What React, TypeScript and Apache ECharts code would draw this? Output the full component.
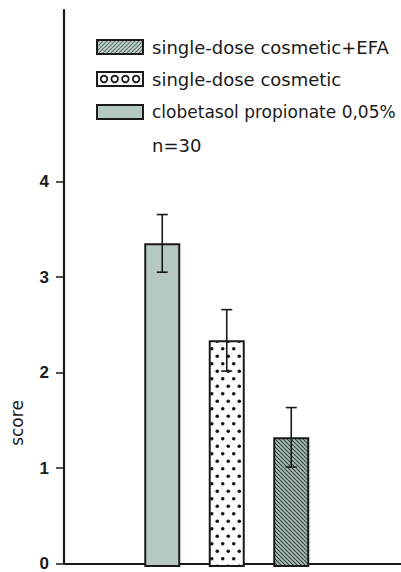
import React, { useEffect, useRef } from "react";
import * as echarts from "echarts";

const categories = ["clobetasol propionate 0,05 %", "single-dose cosmetic", "single-dose cosmetic+EFA"];
const scores = [3.37, 2.36, 1.35];
const errors = [0.3, 0.32, 0.31];
const yTickLabels = [0, 1, 2, 3, 4];
const legendLabels = ["single-dose cosmetic+EFA", "single-dose cosmetic", "clobetasol propionate 0,05%"];
const sampleNote = "n=30";
const yAxisName = "score";

const SAGE = "#b6c9c1";
const HATCH_BG = "#a9bcb4";
const HATCH_LINE = "#34443e";

function makeHatch(dir: "down" | "up", bg: string, line: string) {
  const c = document.createElement("canvas");
  const s = 4;
  c.width = s;
  c.height = s;
  const g = c.getContext("2d")!;
  g.fillStyle = bg;
  g.fillRect(0, 0, s, s);
  g.strokeStyle = line;
  g.lineWidth = 1.1;
  for (let k = -1; k <= 1; k++) {
    g.beginPath();
    if (dir === "down") {
      g.moveTo(k * s, 0);
      g.lineTo(k * s + s, s);
    } else {
      g.moveTo(k * s, s);
      g.lineTo(k * s + s, 0);
    }
    g.stroke();
  }
  return { image: c, repeat: "repeat" as const, imageWidth: s, imageHeight: s };
}

function makeDots() {
  const c = document.createElement("canvas");
  const w = 11;
  const h = 15;
  c.width = w;
  c.height = h;
  const g = c.getContext("2d")!;
  g.fillStyle = "#ffffff";
  g.fillRect(0, 0, w, h);
  g.fillStyle = "#151515";
  const pts = [
    [2.75, 3.75],
    [8.25, 11.25],
  ];
  for (const [x, y] of pts) {
    g.beginPath();
    g.arc(x, y, 1.8, 0, Math.PI * 2);
    g.fill();
  }
  return { image: c, repeat: "repeat" as const, imageWidth: w, imageHeight: h };
}

export default function App() {
  const ref = useRef<HTMLDivElement>(null);
  useEffect(() => {
    if (!ref.current) return;
    const chart = echarts.init(ref.current, undefined, { renderer: "svg" });
    const hatchDown = makeHatch("down", HATCH_BG, HATCH_LINE);
    const hatchUp = makeHatch("up", "#bfd0c8", "#5d6e67");
    const dots = makeDots();
    const fills = [SAGE, dots, hatchDown];

    const YMAX = 5.8;
    const font = "DejaVu Sans, Liberation Sans, Arial, sans-serif";

    const legendX = 97;
    const legendTextX = 152;
    const rowsY = [47, 79, 112];
    const legendFills = [hatchUp, "#ffffff", SAGE];
    const legendSizes = [18, 18, 17];

    const graphics: any[] = [];
    legendLabels.forEach((lab, i) => {
      graphics.push({
        type: "rect",
        shape: { x: legendX, y: rowsY[i] - 7, width: 46, height: 14 },
        style: { fill: legendFills[i] as any, stroke: "#1a1a1a", lineWidth: 2 },
        z: 10,
      });
      if (i === 1) {
        for (let k = 0; k < 4; k++) {
          graphics.push({
            type: "circle",
            shape: { cx: legendX + 7 + k * 10.7, cy: rowsY[i], r: 3.3 },
            style: { fill: "#ffffff", stroke: "#1a1a1a", lineWidth: 1.8 },
            z: 11,
          });
        }
      }
      graphics.push({
        type: "text",
        x: legendTextX,
        y: rowsY[i],
        style: {
          text: lab,
          fill: "#1a1a1a",
          font: `${legendSizes[i]}px ${font}`,
          verticalAlign: "middle",
          align: "left",
        },
        z: 10,
      });
    });
    graphics.push({
      type: "text",
      x: legendTextX,
      y: 145,
      style: { text: sampleNote, fill: "#1a1a1a", font: `18px ${font}`, verticalAlign: "middle", align: "left" },
      z: 10,
    });
    graphics.push({
      type: "text",
      x: 17,
      y: 423,
      rotation: Math.PI / 2,
      style: { text: yAxisName, fill: "#1a1a1a", font: `17px ${font}`, verticalAlign: "middle", align: "center" },
      z: 10,
    });

    const option: any = {
      animation: false,
      backgroundColor: "#ffffff",
      grid: [
        { left: 64, right: 0, top: 10, bottom: 5 },
        { left: 130, right: 77.5, top: 10, bottom: 5 },
      ],
      xAxis: [
        {
          type: "value",
          gridIndex: 0,
          min: 0,
          max: 1,
          axisLine: { show: true, lineStyle: { color: "#1a1a1a", width: 2 } },
          axisTick: { show: false },
          axisLabel: { show: false },
          splitLine: { show: false },
        },
        {
          type: "category",
          gridIndex: 1,
          data: categories,
          show: false,
        },
      ],
      yAxis: [
        {
          type: "value",
          gridIndex: 0,
          min: 0,
          max: YMAX,
          interval: 1,
          axisLine: { show: true, lineStyle: { color: "#1a1a1a", width: 2.2 } },
          axisTick: {
            show: true,
            length: 8,
            lineStyle: { color: "#1a1a1a", width: 1.5 },
            customValues: yTickLabels,
          },
          axisLabel: {
            show: true,
            margin: 15,
            color: "#1a1a1a",
            fontSize: 17,
            fontWeight: "bold",
            fontFamily: "Liberation Sans, Arial, sans-serif",
            customValues: yTickLabels,
            formatter: (v: number) => String(v),
          },
          splitLine: { show: false },
        },
        {
          type: "value",
          gridIndex: 1,
          min: 0,
          max: YMAX,
          show: false,
          splitLine: { show: false },
        },
      ],
      series: [
        {
          type: "bar",
          xAxisIndex: 1,
          yAxisIndex: 1,
          barWidth: 36,
          data: scores.map((v, i) => ({
            value: v,
            itemStyle: { color: fills[i] as any, borderColor: "#1a1a1a", borderWidth: 2 },
          })),
          z: 2,
        },
        {
          type: "custom",
          xAxisIndex: 1,
          yAxisIndex: 1,
          z: 5,
          data: scores.map((v, i) => [i, v, errors[i]]),
          renderItem: (params: any, api: any) => {
            const x = api.value(0);
            const y = api.value(1);
            const e = api.value(2);
            const top = api.coord([x, y + e]);
            const bot = api.coord([x, y - e]);
            const half = 5.5;
            const st = { stroke: "#1a1a1a", lineWidth: 1.6 };
            return {
              type: "group",
              children: [
                { type: "line", shape: { x1: top[0], y1: top[1], x2: bot[0], y2: bot[1] }, style: st },
                { type: "line", shape: { x1: top[0] - half, y1: top[1], x2: top[0] + half, y2: top[1] }, style: st },
                { type: "line", shape: { x1: bot[0] - half, y1: bot[1], x2: bot[0] + half, y2: bot[1] }, style: st },
              ],
            };
          },
        },
      ],
      graphic: graphics,
    };
    chart.setOption(option);
    return () => chart.dispose();
  }, []);
  return <div ref={ref} style={{ width: 401, height: 572, position: "absolute", left: 0, top: 0 }} />;
}
